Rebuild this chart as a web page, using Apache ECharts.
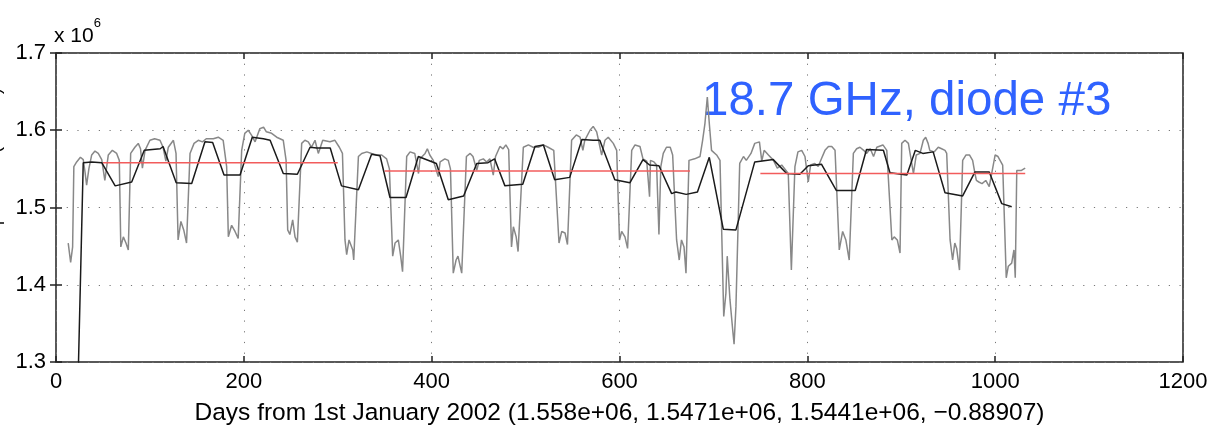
<!DOCTYPE html>
<html>
<head>
<meta charset="utf-8">
<script src="https://cdn.jsdelivr.net/npm/echarts@6/dist/echarts.min.js"></script>
<style>
html,body{margin:0;padding:0;background:#fff;}
#c{width:1211px;height:430px;}
</style>
</head>
<body>
<div id="c"></div>
<script>
// Values in units of 10^6 counts
const xTicks = [0, 200, 400, 600, 800, 1000, 1200];
const yTicks = [1.3, 1.4, 1.5, 1.6, 1.7];

const rawDays = [13,15.6,17.7,19,22,26,29,31,32.6,35,38,41.5,45,48.7,52,55.7,60,64.6,67.4,69,71.7,74.5,77,79.5,84,87.6,90,92,94.8,100,105,110.7,114,117,119.6,125,127.8,130,133,136,139,142.7,147,151.5,156,160,167.5,172.8,178,181.7,183.5,187,190.6,194,197.7,201,204.7,208,212,217,221,224,229.6,235,242,245,246.7,249,252,254.5,257,261.6,265,268.6,272,275.8,279.3,284,291.7,297,301.7,305,307.7,309.5,312,313.8,316,317,322,325.5,331,336,341.5,346.8,352,355,358.5,361,364.5,367,369,373.4,377,382,386,387.6,393,395.4,398,401.7,407,409,414,417.7,420,423,426,428,432,437,441,444,448,450.7,455,458.5,462,465.6,468,472.7,476,479,482,485,487,490,492,497.6,503,508,513.6,519,524,530,535.6,538.5,542,544.6,549,554,558,561,563,568.6,572,575.7,581,584.5,588,593.4,597,600,602.3,605.8,608.6,613,616.5,621.8,625,629,632,633,636.7,639.5,642,644,646.6,650,654,656.6,660.8,663.6,666,668.7,670.8,674,680,685.7,688.5,691,693.5,695.6,698,703.4,707,711,713.3,714.7,717.6,720.5,722,724,728,732,735,740,744,749,751.5,754,758.6,764,768,772.7,779.7,783,786.8,790,794,797.5,801,803.5,808,811.6,815,818.8,822.5,826,829.5,834,837.6,841,844.6,849,852.5,856,860,863,867,870.5,874,880.5,884.6,890,892.5,895.8,898.7,900.5,904,907.6,913,916,920,923.5,926,928.6,930.4,935,939.4,943,946.6,948.4,952,954.7,957,959,962,965.4,969,972.6,976,978.5,980,982.6,986,990,993.7,1000,1003,1008,1011.8,1014,1017.6,1020,1021.4,1023,1024.7,1028,1030.6,1032];
const rawValues = [1.454,1.429,1.449,1.553,1.559,1.565,1.562,1.545,1.529,1.55,1.568,1.573,1.570,1.562,1.535,1.568,1.574,1.570,1.561,1.449,1.462,1.454,1.445,1.570,1.578,1.583,1.576,1.551,1.574,1.587,1.589,1.587,1.578,1.560,1.578,1.587,1.570,1.458,1.482,1.471,1.454,1.570,1.583,1.587,1.585,1.589,1.589,1.591,1.587,1.553,1.462,1.477,1.469,1.460,1.574,1.596,1.600,1.594,1.585,1.602,1.604,1.598,1.596,1.591,1.587,1.561,1.471,1.465,1.484,1.462,1.455,1.583,1.587,1.585,1.578,1.587,1.570,1.587,1.585,1.587,1.578,1.570,1.458,1.439,1.458,1.456,1.445,1.432,1.566,1.570,1.572,1.570,1.568,1.568,1.563,1.55,1.437,1.454,1.458,1.437,1.417,1.566,1.572,1.570,1.544,1.563,1.570,1.576,1.568,1.561,1.540,1.559,1.563,1.561,1.55,1.415,1.432,1.437,1.415,1.566,1.570,1.566,1.548,1.561,1.563,1.559,1.563,1.542,1.566,1.579,1.576,1.581,1.575,1.449,1.475,1.462,1.443,1.578,1.581,1.578,1.578,1.581,1.578,1.574,1.454,1.469,1.467,1.452,1.587,1.594,1.591,1.574,1.587,1.600,1.605,1.598,1.568,1.587,1.591,1.583,1.574,1.458,1.469,1.462,1.447,1.574,1.581,1.579,1.563,1.56,1.514,1.561,1.559,1.555,1.465,1.553,1.570,1.578,1.578,1.568,1.458,1.432,1.458,1.449,1.415,1.561,1.563,1.566,1.587,1.609,1.643,1.609,1.574,1.568,1.561,1.359,1.389,1.437,1.381,1.342,1.323,1.372,1.557,1.566,1.561,1.57,1.583,1.585,1.560,1.574,1.568,1.561,1.551,1.555,1.544,1.419,1.553,1.572,1.574,1.566,1.533,1.555,1.557,1.553,1.563,1.574,1.579,1.579,1.574,1.445,1.469,1.458,1.432,1.570,1.576,1.578,1.574,1.570,1.576,1.566,1.578,1.581,1.574,1.458,1.462,1.458,1.441,1.583,1.587,1.583,1.544,1.568,1.570,1.587,1.591,1.583,1.574,1.572,1.578,1.576,1.574,1.570,1.458,1.432,1.454,1.447,1.419,1.561,1.568,1.568,1.561,1.544,1.535,1.533,1.531,1.535,1.527,1.568,1.566,1.555,1.409,1.424,1.428,1.445,1.409,1.548,1.549,1.548,1.550,1.551];

const smoothDays = [23,29,38,48.7,63,80.6,94,111,114,128,144.5,158.6,166.8,178.9,196,209,220.8,228,242,257,270.5,277.6,292,304,322,336,345,355.6,372.7,385.8,405,417.7,434,448,460,467,478,497,510,519,531,547,560,572,579,595,611,625,632,642,655.5,660,671,683,695.6,710.5,724,744,763.7,778,792,801,815,831,851,863,881,888,906,915,923,934,946.6,965.4,978.5,993.7,1007,1017.6];
const smoothValues = [1.25,1.558,1.559,1.558,1.528,1.533,1.574,1.576,1.579,1.532,1.531,1.585,1.584,1.542,1.542,1.591,1.589,1.587,1.544,1.543,1.578,1.577,1.577,1.528,1.523,1.569,1.567,1.513,1.513,1.566,1.557,1.510,1.515,1.557,1.558,1.563,1.528,1.530,1.579,1.581,1.536,1.539,1.588,1.587,1.587,1.536,1.532,1.562,1.555,1.554,1.518,1.520,1.517,1.520,1.565,1.472,1.471,1.559,1.562,1.544,1.543,1.554,1.556,1.522,1.522,1.575,1.574,1.545,1.542,1.574,1.570,1.572,1.519,1.515,1.546,1.546,1.505,1.501];

const meanStart = [50, 350, 750];
const meanEnd = [300, 675, 1032];
const meanValues = [1.558, 1.5471, 1.5441];

const xName = 'Days from 1st January 2002 (1.558e+06, 1.5471e+06, 1.5441e+06, \u22120.88907)';
const annotation = '18.7 GHz, diode #3';
const yName = 'Antenna temperature (counts)';

const FONT = '"Liberation Sans", Arial, Helvetica, sans-serif';

const rawData = rawDays.map((d, i) => [d, rawValues[i]]);
const smoothData = smoothDays.map((d, i) => [d, smoothValues[i]]);

const series = [
  {
    type: 'line', data: rawData, showSymbol: false, symbol: 'none',
    lineStyle: { color: '#888888', width: 1.5 }, z: 2, clip: true
  },
  {
    type: 'line', data: smoothData, showSymbol: false, symbol: 'none',
    lineStyle: { color: '#1a1a1a', width: 1.5 }, z: 3, clip: true
  }
];
meanValues.forEach((v, i) => {
  series.push({
    type: 'line', data: [[meanStart[i], v], [meanEnd[i], v]],
    showSymbol: false, symbol: 'none',
    lineStyle: { color: '#f25c5c', width: 1.5 }, z: 4
  });
});

const chart = echarts.init(document.getElementById('c'), null, { renderer: 'canvas' });
const axisText = { color: '#000', fontFamily: FONT, fontSize: 22 };
chart.setOption({
  animation: false,
  backgroundColor: '#fff',
  grid: { left: 56, right: 28, top: 53, bottom: 68, show: true, borderColor: '#222', borderWidth: 1.5, backgroundColor: 'transparent', containLabel: false, outerBoundsMode: 'none' },
  xAxis: [{
    type: 'value', min: 0, max: 1200, interval: 200,
    axisLine: { show: false },
    axisTick: { show: true, inside: true, length: 6, lineStyle: { color: '#222', width: 1.5 } },
    axisLabel: Object.assign({ margin: 9, formatter: v => String(v) }, axisText),
    splitLine: { show: true, lineStyle: { color: '#777', width: 1, type: [1.2, 9.5] } },
    name: xName, nameLocation: 'middle', nameGap: 39,
    nameTextStyle: { color: '#000', fontFamily: FONT, fontSize: 24.5 }
  }, {
    type: 'value', min: 0, max: 1200, interval: 200, position: 'top',
    axisLine: { show: false }, axisLabel: { show: false }, splitLine: { show: false },
    axisTick: { show: true, inside: true, length: 6, lineStyle: { color: '#222', width: 1.5 } }
  }],
  yAxis: [{
    type: 'value', min: 1.3, max: 1.7, interval: 0.1,
    axisLine: { show: false },
    axisTick: { show: true, inside: true, length: 6, lineStyle: { color: '#222', width: 1.5 } },
    axisLabel: Object.assign({ margin: 10, formatter: v => v.toFixed(1) }, axisText),
    splitLine: { show: true, lineStyle: { color: '#777', width: 1, type: [1.2, 9.5] } },
    name: yName, nameLocation: 'middle', nameGap: 52, nameRotate: 90,
    nameTextStyle: { color: '#000', fontFamily: FONT, fontSize: 18 }
  }, {
    type: 'value', min: 1.3, max: 1.7, interval: 0.1, position: 'right',
    axisLine: { show: false }, axisLabel: { show: false }, splitLine: { show: false },
    axisTick: { show: true, inside: true, length: 6, lineStyle: { color: '#222', width: 1.5 } }
  }],
  graphic: [
    {
      type: 'text', left: 54, top: 17,
      style: {
        text: '{b|x 10}{s|6}',
        rich: {
          b: { fontFamily: FONT, fontSize: 21, fill: '#000', verticalAlign: 'bottom', lineHeight: 30 },
          s: { fontFamily: FONT, fontSize: 13, fill: '#000', verticalAlign: 'top', lineHeight: 30 }
        }
      }
    },
    {
      type: 'text', left: 702, top: 78,
      style: { text: annotation, fontFamily: FONT, fontSize: 47.5, fill: '#2f62ff' }
    }
  ],
  series: series
});
</script>
</body>
</html>
